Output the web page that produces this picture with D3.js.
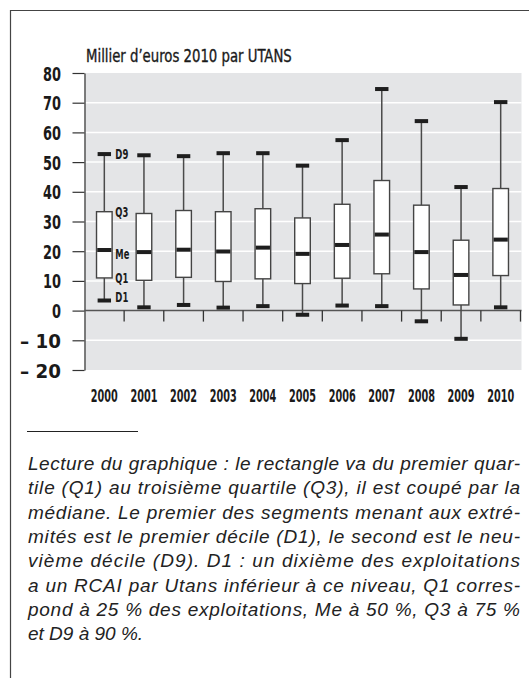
<!DOCTYPE html>
<html lang="fr">
<head>
    <meta charset="UTF-8">
    <script src="https://d3js.org/d3.v7.min.js"></script>
    <style>
        body { margin: 0; background: #fff; }
        .cond { font-family: "Liberation Sans Narrow", "DejaVu Sans Condensed", sans-serif; font-weight: bold; fill: #1a1a1a; }
        .note { font-family: "Liberation Sans", Arial, sans-serif; font-style: italic; font-size: 19px; fill: #222; }
    </style>
</head>
<body>
    <div id="chart"></div>
    <script>
        // values (milliers d'euros 2010 par UTANS)
        const years = ["2000", "2001", "2002", "2003", "2004", "2005", "2006", "2007", "2008", "2009", "2010"];
        const d1 = [3.4, 1.1, 1.9, 1.0, 1.5, -1.4, 1.7, 1.5, -3.6, -9.5, 1.1];
        const q1 = [11.0, 10.2, 11.2, 9.8, 10.7, 9.1, 10.9, 12.4, 7.3, 1.9, 11.8];
        const me = [20.4, 19.7, 20.5, 19.9, 21.2, 19.1, 22.1, 25.6, 19.7, 12.0, 23.9];
        const q3 = [33.3, 32.7, 33.7, 33.3, 34.3, 31.2, 35.8, 43.8, 35.5, 23.7, 41.1];
        const d9 = [52.7, 52.3, 52.0, 53.0, 53.0, 48.8, 57.4, 74.6, 63.8, 41.6, 70.2];
        const yTicks = [-20, -10, 0, 10, 20, 30, 40, 50, 60, 70, 80];
        const markLabels = ["D9", "Q3", "Me", "Q1", "D1"];

        const title = "Millier d\u2019euros 2010 par UTANS";
        const noteLines = [
            "Lecture du graphique : le rectangle va du premier quar-",
            "tile (Q1) au troisième quartile (Q3), il est coupé par la",
            "médiane. Le premier des segments menant aux extré-",
            "mités est le premier décile (D1), le second est le neu-",
            "vième décile (D9). D1 : un dixième des exploitations",
            "a un RCAI par Utans inférieur à ce niveau, Q1 corres-",
            "pond à 25 % des exploitations, Me à 50 %, Q3 à 75 %",
            "et D9 à 90 %."
        ];

        const data = years.map((y, i) => ({year: y, d1: d1[i], q1: q1[i], me: me[i], q3: q3[i], d9: d9[i]}));

        const w = 529, h = 678;
        const padL = 84.5, padR = 520.5, padT = 73, padB = 370;

        // squeeze a text horizontally to a given width (the condensed face is not installed)
        function squeeze(sel, tx, ty, width) {
            sel.each(function (d, i) {
                const t = d3.select(this);
                const nat = this.getComputedTextLength();
                const wd = typeof width === "function" ? width(d, i) : width;
                const px = typeof tx === "function" ? tx(d, i) : tx;
                const py = typeof ty === "function" ? ty(d, i) : ty;
                t.attr("x", 0).attr("y", 0)
                 .attr("transform", "translate(" + px + "," + py + ") scale(" + (wd / nat) + ",1)");
            });
        }

        const svg = d3.select("#chart").append("svg")
            .attr("width", w)
            .attr("height", h);

        // frame
        svg.append("path")
            .attr("d", "M10.5," + h + "V10.5H" + w)
            .attr("fill", "none")
            .attr("stroke", "#444")
            .attr("stroke-width", 1.2);

        const y = d3.scaleLinear().domain([-20, 80]).range([padB, padT]);
        const x = d3.scaleBand().domain(years).range([padL, padR]);
        const bw = x.bandwidth();

        // plot background
        svg.append("rect")
            .attr("x", padL).attr("y", padT)
            .attr("width", padR - padL + 1).attr("height", padB - padT)
            .attr("fill", "#e4e5e7");

        // white grid
        svg.selectAll("line.grid")
            .data(yTicks.filter(d => d != 0 && d != -20 && d != 80))
            .enter().append("line")
            .attr("class", "grid")
            .attr("x1", padL).attr("x2", padR + 1)
            .attr("y1", d => y(d)).attr("y2", d => y(d))
            .attr("stroke", "#fff")
            .attr("stroke-width", 1.5);

        // y axis
        const fmtY = d => d < 0 ? "\u2013 " + Math.abs(d) : "" + d;
        const yAxis = d3.axisLeft(y)
            .tickValues(yTicks)
            .tickSize(12)
            .tickSizeOuter(0)
            .tickPadding(11)
            .tickFormat(fmtY);
        const gy = svg.append("g")
            .attr("transform", "translate(" + padL + ",0)")
            .call(yAxis);
        gy.select(".domain").attr("stroke", "#555").attr("stroke-width", 1.5);
        gy.selectAll(".tick line").attr("stroke", "#333").attr("stroke-width", 1.2);
        gy.selectAll(".tick text")
            .attr("class", "cond")
            .style("font-size", "19.5px")
            .attr("dy", "0.36em")
            .call(squeeze, -23.5, 0, d => d < 0 ? 41 : (d == 0 ? 9 : 18));

        // zero line and category ticks
        svg.append("line")
            .attr("x1", padL).attr("x2", padR + 1)
            .attr("y1", y(0)).attr("y2", y(0))
            .attr("stroke", "#555").attr("stroke-width", 1.5);
        svg.selectAll("line.xtick")
            .data(years)
            .enter().append("line")
            .attr("class", "xtick")
            .attr("x1", d => x(d) + bw).attr("x2", d => x(d) + bw)
            .attr("y1", y(0)).attr("y2", y(0) + 11)
            .attr("stroke", "#333").attr("stroke-width", 1.3);

        // x labels
        svg.selectAll("text.year")
            .data(years)
            .enter().append("text")
            .attr("class", "year cond")
            .attr("text-anchor", "middle")
            .style("font-size", "18px")
            .text(d => d)
            .call(squeeze, d => x(d) + bw / 2, 401.5, 27);

        // title
        svg.append("text")
            .attr("class", "cond")
            .style("font-size", "18px")
            .style("font-weight", "normal")
            .attr("stroke", "#1a1a1a")
            .attr("stroke-width", 0.35)
            .text(title)
            .call(squeeze, 86, 62, 206);

        // boxes
        const boxW = 15.6, capW = 13.4, capH = 4;
        const g = svg.selectAll("g.box")
            .data(data)
            .enter().append("g")
            .attr("class", "box")
            .attr("transform", d => "translate(" + (x(d.year) + bw / 2) + ",0)");

        g.append("line")
            .attr("y1", d => y(d.d9)).attr("y2", d => y(d.q3))
            .attr("stroke", "#4a4a4a").attr("stroke-width", 1.5);
        g.append("line")
            .attr("y1", d => y(d.q1)).attr("y2", d => y(d.d1))
            .attr("stroke", "#4a4a4a").attr("stroke-width", 1.5);
        g.append("rect")
            .attr("x", -boxW / 2)
            .attr("y", d => y(d.q3))
            .attr("width", boxW)
            .attr("height", d => y(d.q1) - y(d.q3))
            .attr("fill", "#fff")
            .attr("stroke", "#444").attr("stroke-width", 1.4);
        g.append("rect")
            .attr("x", -boxW / 2 + 0.7)
            .attr("y", d => y(d.me) - capH / 2)
            .attr("width", boxW - 1.4)
            .attr("height", capH)
            .attr("fill", "#1e1e1e");
        ["d9", "d1"].forEach(k => {
            g.append("rect")
                .attr("x", -capW / 2)
                .attr("y", d => y(d[k]) - capH / 2)
                .attr("width", capW)
                .attr("height", capH)
                .attr("fill", "#1e1e1e");
        });

        // labels on first box
        const first = data[0];
        const labVals = [first.d9, first.q3, first.me - 1.3, first.q1, first.d1 + 1.2];
        svg.selectAll("text.mark")
            .data(markLabels)
            .enter().append("text")
            .attr("class", "mark cond")
            .attr("dy", "0.36em")
            .style("font-size", "14px")
            .text(d => d)
            .call(squeeze, x(first.year) + bw / 2 + 11, (d, i) => y(labVals[i]), d => d == "Me" ? 14 : 13);

        // note
        svg.append("line")
            .attr("x1", 27).attr("x2", 138)
            .attr("y1", 431.5).attr("y2", 431.5)
            .attr("stroke", "#222").attr("stroke-width", 1);

        svg.selectAll("text.note")
            .data(noteLines)
            .enter().append("text")
            .attr("class", "note")
            .attr("x", 28)
            .attr("y", (d, i) => 470 + i * 24.3)
            .attr("textLength", (d, i) => i < noteLines.length - 1 ? 492 : null)
            .attr("lengthAdjust", "spacing")
            .text(d => d);
    </script>
</body>
</html>
